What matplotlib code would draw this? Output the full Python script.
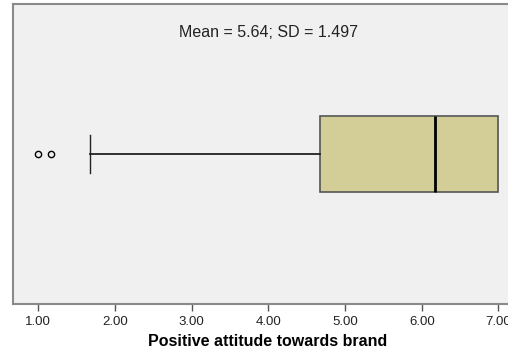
import matplotlib.pyplot as plt

# summary values of the boxplot
variable = "Positive attitude towards brand"
mean_val = 5.64
sd_val = 1.497
q1 = 4.67
median = 6.17
q3 = 7.00
whisker_low = 1.67
whisker_high = 7.00
outliers = [1.00, 1.17]
tick_values = [1, 2, 3, 4, 5, 6, 7]
tick_labels = ["1.00", "2.00", "3.00", "4.00", "5.00", "6.00", "7.00"]

plt.rcParams['font.family'] = ['Liberation Sans', 'DejaVu Sans']

fig = plt.figure(figsize=(5.08, 3.58), dpi=100)
fig.patch.set_facecolor("white")
ax = fig.add_axes([0.0256, 0.151, 1.004, 0.838])
ax.set_facecolor("#f0f0f0")

stats = [{
    "q1": q1, "med": median, "q3": q3,
    "whislo": whisker_low, "whishi": whisker_high,
    "fliers": outliers,
}]
parts = ax.bxp(stats, positions=[0.5], widths=0.253, vert=False, patch_artist=True,
               showcaps=True, capwidths=0.127,
               boxprops=dict(facecolor="#d3ce98", edgecolor="#555555", linewidth=1.2),
               medianprops=dict(color="black", linewidth=2),
               whiskerprops=dict(color="#222222", linewidth=1.3),
               capprops=dict(color="#222222", linewidth=1.0),
               flierprops=dict(marker="o", markersize=4.5, markerfacecolor="none",
                               markeredgecolor="black", markeredgewidth=1.0))
# upper whisker coincides with the box edge, SPSS shows no cap there
if whisker_high == q3:
    parts["caps"][1].set_visible(False)

ax.set_xlim(0.67, 7.32)
ax.set_ylim(0, 1)
ax.set_yticks([])
ax.set_xticks(tick_values)
ax.set_xticklabels(tick_labels, fontsize=9.5, color="#222222")
ax.tick_params(axis="x", direction="out", length=5, width=1, color="#555555", pad=4)

for s in ax.spines.values():
    s.set_color("#8a8a8a")
    s.set_linewidth(1.5)

ax.text(0.5, 0.905, f"Mean = {mean_val}; SD = {sd_val}", transform=ax.transAxes,
        ha="center", va="center", fontsize=11.5, color="#222222")
ax.set_xlabel(variable, fontsize=11.5, fontweight="bold", labelpad=4)

fig.savefig("out.png", dpi=100)
